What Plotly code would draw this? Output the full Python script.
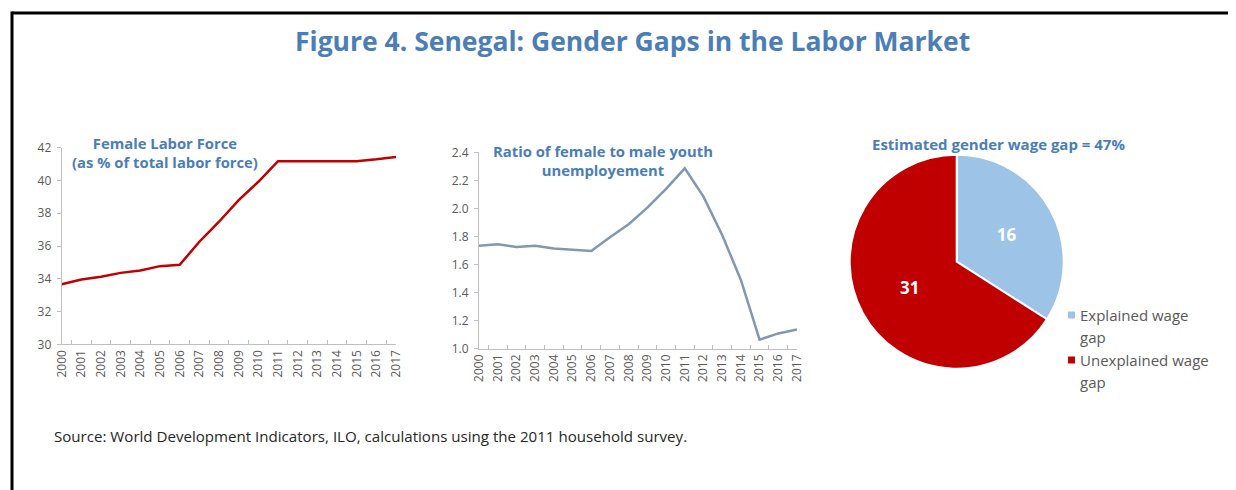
import plotly.graph_objects as go

OFF = 8  # page body margin offset
W, H = 1236 - OFF, 490 - OFF

years = [str(y) for y in range(2000, 2018)]
female_lf = [33.67, 33.95, 34.12, 34.36, 34.5, 34.77, 34.85, 36.26, 37.48, 38.8,
             39.92, 41.18, 41.18, 41.18, 41.18, 41.18, 41.29, 41.43]
youth_ratio = [1.734, 1.744, 1.725, 1.734, 1.715, 1.706, 1.696, 1.794, 1.887, 2.005,
               2.139, 2.286, 2.084, 1.81, 1.49, 1.064, 1.109, 1.137]
pie_labels = ["Explained wage gap", "Unexplained wage gap"]
pie_legend_lines = [["Explained wage", "gap"], ["Unexplained wage", "gap"]]
pie_values = [16, 31]
pie_colors = ["#9DC3E6", "#C00000"]

BLUE_T = "#4A7EB5"
GREY = "#595959"
AX = "#BFBFBF"
FONT = "Open Sans"


def px_x(x):
    return (x - OFF) / W


def px_y(y):
    return 1 - (y - OFF) / H


fig = go.Figure()

fig.add_trace(go.Scatter(x=years, y=female_lf, mode="lines",
                         line=dict(color="#C00000", width=2.5),
                         xaxis="x", yaxis="y", showlegend=False))
fig.add_trace(go.Scatter(x=years, y=youth_ratio, mode="lines",
                         line=dict(color="#8497B0", width=2.5),
                         xaxis="x2", yaxis="y2", showlegend=False))
fig.add_trace(go.Pie(labels=pie_labels, values=pie_values, sort=False,
                     direction="clockwise", rotation=0,
                     marker=dict(colors=pie_colors,
                                 line=dict(color="white", width=2)),
                     textposition="inside",
                     insidetextfont=dict(color="white", size=17, family=FONT),
                     texttemplate="<b>%{value}</b>",
                     hoverinfo="label+value", showlegend=False,
                     domain=dict(x=[px_x(849.7), px_x(1063.7)],
                                 y=[px_y(368.7), px_y(154.7)])))

xcommon = dict(type="category", tickson="boundaries", ticks="inside", ticklen=4,
               tickcolor=AX, showline=True, linecolor=AX, linewidth=1,
               tickangle=-90, tickfont=dict(color=GREY, size=12, family=FONT),
               showgrid=False, zeroline=False, fixedrange=True, automargin=False)
ycommon = dict(showline=True, linecolor=AX, linewidth=1, ticks="outside", ticklen=4,
               tickcolor=AX, showgrid=False, zeroline=False, ticklabelstandoff=3,
               tickfont=dict(color=GREY, size=12, family=FONT), fixedrange=True,
               automargin=False)

fig.update_layout(
    width=W, height=H,
    margin=dict(l=0, r=0, t=0, b=0, pad=0, autoexpand=False),
    paper_bgcolor="white", plot_bgcolor="white",
    font=dict(family=FONT, color=GREY),
    xaxis=dict(domain=[px_x(61.7), px_x(396)], anchor="y", **xcommon),
    yaxis=dict(domain=[px_y(344.3), px_y(147.7)], anchor="x", range=[30, 42],
               dtick=2, **ycommon),
    xaxis2=dict(domain=[px_x(479), px_x(797)], anchor="y2", **xcommon),
    yaxis2=dict(domain=[px_y(348.7), px_y(152.3)], anchor="x2", range=[1.0, 2.4],
                dtick=0.2, tickformat=".1f", **ycommon),
    showlegend=False,
)

annotations = [
    dict(text="<b>Figure 4. Senegal: Gender Gaps in the Labor Market</b>",
         x=px_x(632), y=px_y(41), font=dict(size=26.5, color=BLUE_T, family=FONT)),
    dict(text="<b>Female Labor Force<br>(as % of total labor force)</b>",
         x=px_x(165), y=px_y(152), font=dict(size=14.8, color=BLUE_T, family=FONT)),
    dict(text="<b>Ratio of female to male youth<br>unemployement</b>",
         x=px_x(603), y=px_y(160), font=dict(size=14.8, color=BLUE_T, family=FONT)),
    dict(text="<b>Estimated gender wage gap = 47%</b>",
         x=px_x(998), y=px_y(144), font=dict(size=15, color=BLUE_T, family=FONT)),
]
for a in annotations:
    a.update(xref="paper", yref="paper", showarrow=False, xanchor="center",
             yanchor="middle")
annotations.append(dict(
    text="Source: World Development Indicators, ILO, calculations using the 2011 household survey.",
    x=px_x(52), y=px_y(436), xref="paper", yref="paper", showarrow=False,
    xanchor="left", yanchor="middle", font=dict(size=15.1, color="#262626", family=FONT)))

# legend (manual, to match the line spacing)
shapes = []
leg_top = [315, 360]
for i, lines in enumerate(pie_legend_lines):
    y0 = leg_top[i]
    shapes.append(dict(type="rect", xref="paper", yref="paper",
                       x0=px_x(1068), x1=px_x(1075), y0=px_y(y0 + 3.5), y1=px_y(y0 - 3.5),
                       fillcolor=pie_colors[i], line=dict(width=0)))
    for j, t in enumerate(lines):
        annotations.append(dict(text=t, x=px_x(1078), y=px_y(y0 + j * 21.5),
                                xref="paper", yref="paper", showarrow=False,
                                xanchor="left", yanchor="middle",
                                font=dict(size=15, color=GREY, family=FONT)))
fig.update_layout(annotations=annotations)

shapes += [
    dict(type="line", xref="paper", yref="paper", x0=px_x(12), x1=1.0,
         y0=px_y(13), y1=px_y(13), line=dict(color="black", width=3)),
    dict(type="line", xref="paper", yref="paper", x0=px_x(12), x1=px_x(12),
         y0=px_y(11.5), y1=0, line=dict(color="black", width=3)),
]
fig.update_layout(shapes=shapes)

fig.write_html("out.html")
